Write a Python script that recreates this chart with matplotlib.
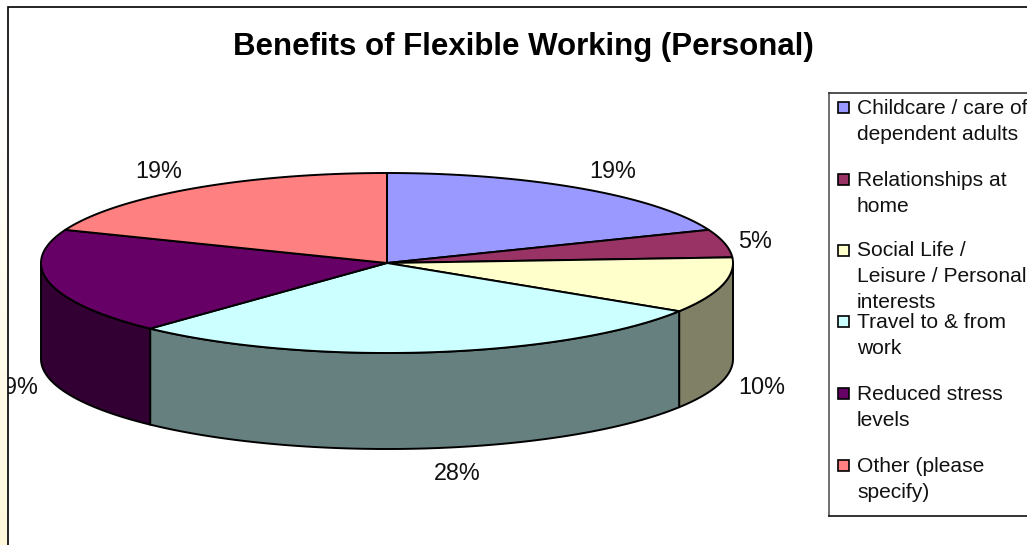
import numpy as np
import matplotlib
matplotlib.use("Agg")
import matplotlib.pyplot as plt
from matplotlib.patches import Polygon, Rectangle

plt.rcParams['font.family'] = ['Liberation Sans', 'DejaVu Sans']

title = "Benefits of Flexible Working (Personal)"
categories = ["Childcare / care of\ndependent adults",
              "Relationships at\nhome",
              "Social Life /\nLeisure / Personal\ninterests",
              "Travel to & from\nwork",
              "Reduced stress\nlevels",
              "Other (please\nspecify)"]
percentages = [19, 5, 10, 28, 19, 19]
top_colors = ["#9999FF", "#993366", "#FFFFCC", "#CCFFFF", "#660066", "#FF8080"]
side_colors = ["#4C4C80", "#4C1933", "#808066", "#668080", "#330033", "#804040"]
label_centers = [(613, 171), (755, 241), (762, 387), (457, 474), (15, 387), (159, 171)]
legend_y = [108, 180, 251, 322, 394, 466]

W, H = 1027, 545
fig = plt.figure(figsize=(W / 100, H / 100), dpi=100)
ax = fig.add_axes([0, 0, 1, 1])
ax.set_xlim(0, W)
ax.set_ylim(H, 0)
ax.axis("off")

# pale strip of the slide showing behind the chart's left edge
strip = np.linspace(0, 1, 256)[:, None, None]
white = np.array([1, 1, 1])[None, None, :]
cream = np.array([1.0, 0.975, 0.86])[None, None, :]
ramp = white + (cream - white) * np.clip((strip - 0.15) / 0.85, 0, 1)
ax.imshow(ramp, extent=(0, 7, H, 0), aspect="auto", zorder=0)
ax.set_xlim(0, W)
ax.set_ylim(H, 0)

# chart frame
ax.plot([7.5, 7.5, W], [H, 6.5, 6.5], color="black", lw=1.2, zorder=1,
        solid_joinstyle="miter")
clip_rect = Rectangle((8, 7), W - 8, H - 7, transform=ax.transData)

cx, cy, rx, ry, depth = 387, 263, 346, 90, 96


def rim(a0, a1):
    t = np.radians(np.linspace(a0, a1, 240))
    return cx + rx * np.cos(t), cy - ry * np.sin(t)


shares = np.array(percentages, dtype=float)
bounds = 90 - np.concatenate([[0], np.cumsum(shares)]) * 3.6

# visible outer wall: the front half of the rim, from 0 down to -180 degrees
for i, colour in enumerate(side_colors):
    a0, a1 = bounds[i], bounds[i + 1]
    lo, hi = max(a1, -180), min(a0, 0)
    if hi <= lo:
        continue
    x, y = rim(hi, lo)
    pts = np.r_[np.c_[x, y], np.c_[x[::-1], y[::-1] + depth]]
    ax.add_patch(Polygon(pts, closed=True, fc=colour, ec="black", lw=1.4,
                         joinstyle="round", zorder=2))

# top face
for i, colour in enumerate(top_colors):
    x, y = rim(bounds[i], bounds[i + 1])
    pts = np.r_[[[cx, cy]], np.c_[x, y]]
    ax.add_patch(Polygon(pts, closed=True, fc=colour, ec="black", lw=1.4,
                         joinstyle="round", zorder=3))

# percentage labels
for pct, (lx, ly) in zip(percentages, label_centers):
    t = ax.text(lx, ly, f"{pct}%", ha="center", va="center", fontsize=16.8,
                color="#111111", zorder=5)
    t.set_clip_path(clip_rect)
    t.set_clip_on(True)

ax.text(523, 47, title, ha="center", va="center", fontsize=22.5,
        fontweight="bold", color="black", zorder=5)

# legend frame and entries
ax.plot([828.5, 828.5], [92.5, 515.5], color="#555555", lw=1.2, zorder=4)
ax.plot([828.5, W], [92.5, 92.5], color="#333333", lw=1.2, zorder=4)
ax.plot([828.5, W], [515.5, 515.5], color="#111111", lw=1.2, zorder=4)
for label, colour, ly in zip(categories, top_colors, legend_y):
    ax.add_patch(Rectangle((838, ly - 6.5), 11, 11, fc=colour, ec="black",
                           lw=1.2, zorder=5))
    for j, line in enumerate(label.split("\n")):
        ax.text(857, ly + j * 26, line, ha="left", va="center", fontsize=15.1,
                color="#111111", zorder=5)

fig.savefig("out.png", dpi=100)
